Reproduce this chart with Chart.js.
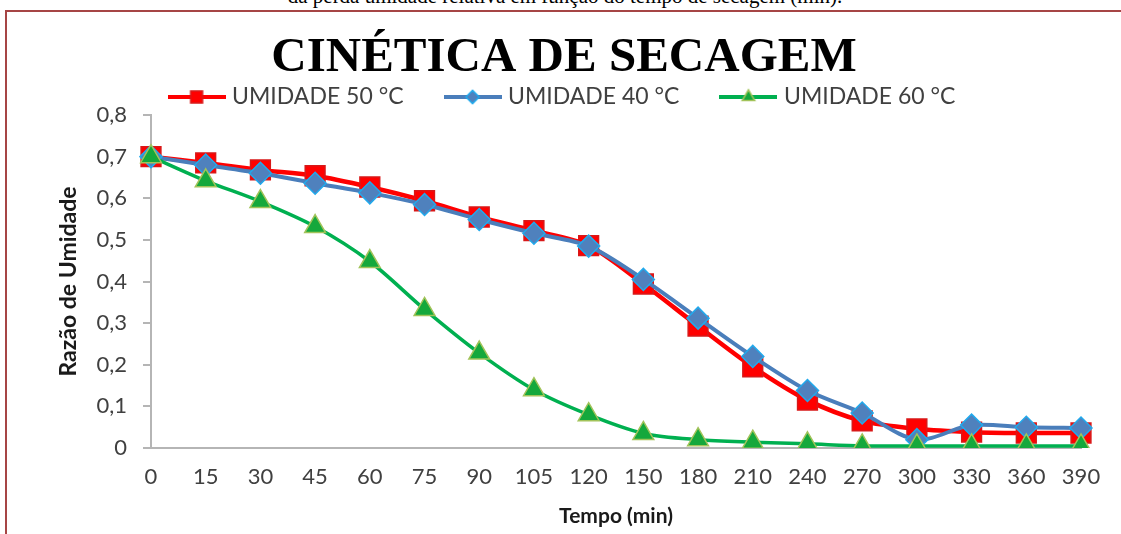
<!DOCTYPE html>
<html lang="pt">
<head>
<meta charset="utf-8">
<script src="https://cdn.jsdelivr.net/npm/chart.js@4/dist/chart.umd.min.js"></script>
<style>
  html, body { margin: 0; padding: 0; background: #fff; overflow: hidden; }
  body { width: 1121px; height: 534px; position: relative; }
  .caption {
    position: absolute; left: 0; top: -14px; width: 1130px; text-align: center;
    font: 21px/21px "Liberation Serif", serif; color: #000; white-space: nowrap;
  }
  .frame {
    position: absolute; left: 5px; top: 10px; width: 1200px; height: 600px;
    border-top: 2px solid #a64545; border-left: 2px solid #a64545;
  }
  .frame canvas { position: absolute; left: 0; top: 0; }
</style>
</head>
<body>
<div class="caption">da perda umidade relativa  em função do tempo de secagem (min).</div>
<div class="frame">
  <canvas id="cinetica" width="1114" height="522" style="width:1114px;height:522px"></canvas>
</div>
<script>
// Tempo de secagem (min)
const tempos = ['0', '15', '30', '45', '60', '75', '90', '105', '120', '150', '180', '210', '240', '270', '300', '330', '360', '390']

// Razão de umidade por temperatura
const umidade50 = [0.70, 0.685, 0.668, 0.654, 0.627, 0.594, 0.555, 0.522, 0.486, 0.394, 0.293, 0.195, 0.115, 0.065, 0.046, 0.038, 0.036, 0.036]
const umidade40 = [0.70, 0.680, 0.660, 0.636, 0.613, 0.585, 0.549, 0.516, 0.485, 0.405, 0.312, 0.220, 0.138, 0.084, 0.020, 0.055, 0.050, 0.048]
const umidade60 = [0.70, 0.642, 0.592, 0.532, 0.448, 0.333, 0.228, 0.140, 0.080, 0.035, 0.020, 0.014, 0.010, 0.005, 0.005, 0.005, 0.005, 0.005]

const yTicks = [0, 0.1, 0.2, 0.3, 0.4, 0.5, 0.6, 0.7, 0.8]

const series = [
  { label: 'UMIDADE 50 °C', data: umidade50, line: '#ff0000', fill: '#ff0000', edge: '#d81818', style: 'rect', radius: 14, width: 4.5, order: 3 },
  { label: 'UMIDADE 40 °C', data: umidade40, line: '#4a7ebb', fill: '#4f81bd', edge: '#21a9ec', style: 'rectRot', radius: 11, width: 4, order: 2 },
  { label: 'UMIDADE 60 °C', data: umidade60, line: '#00b050', fill: '#15a83c', edge: '#a2c35a', style: 'triangle', radius: 12, width: 3.5, order: 1 },
]

// Little line-with-marker glyph for the legend
function legendGlyph(s) {
  const c = document.createElement('canvas')
  c.width = 58
  c.height = 20
  const ctx = c.getContext('2d')
  ctx.strokeStyle = s.line
  ctx.lineWidth = 4
  ctx.beginPath()
  ctx.moveTo(0, 10)
  ctx.lineTo(58, 10)
  ctx.stroke()
  ctx.fillStyle = s.fill
  ctx.strokeStyle = s.edge
  ctx.lineWidth = 1.5
  Chart.helpers.drawPoint(ctx, { pointStyle: s.style, radius: s.radius * 0.6, rotation: 0, borderWidth: 1.5 }, 29, 10)
  return c
}

const glyphs = series.map(legendGlyph)

new Chart(document.getElementById('cinetica'), {
  type: 'line',
  data: {
    labels: tempos,
    datasets: series.map((s) => ({
      label: s.label,
      data: s.data,
      order: s.order,
      borderColor: s.line,
      borderWidth: s.width,
      backgroundColor: s.fill,
      pointStyle: s.style,
      pointRadius: s.radius,
      pointBackgroundColor: s.fill,
      pointBorderColor: s.edge,
      pointBorderWidth: 1.5,
      tension: 0.3,
      fill: false,
    })),
  },
  options: {
    responsive: false,
    animation: false,
    events: [],
    layout: { padding: { left: 40, right: 40, top: 0, bottom: 0 } },
    plugins: {
      title: {
        display: true,
        text: 'CINÉTICA DE SECAGEM',
        color: '#000',
        font: { family: '"Liberation Serif", "Times New Roman", serif', size: 49, weight: 'bold', lineHeight: 1 },
        // the legend sits close under the title
        padding: { top: 22, bottom: -42.5 },
      },
      legend: {
        display: true,
        maxHeight: 74.5,
        labels: {
          usePointStyle: true,
          pointStyleWidth: 48,
          padding: 45,
          color: '#404040',
          font: { family: 'Lato, sans-serif', size: 23 },
          sort: (a, b) => a.datasetIndex - b.datasetIndex,
          generateLabels(chart) {
            return chart.data.datasets.map((ds, i) => ({
              text: ds.label,
              datasetIndex: i,
              pointStyle: glyphs[i],
              fillStyle: 'transparent',
              strokeStyle: 'transparent',
              lineWidth: 0,
              fontColor: '#404040',
              hidden: false,
            }))
          },
        },
      },
      tooltip: { enabled: false },
    },
    scales: {
      x: {
        offset: false,
        grid: { display: false },
        border: { display: true, color: '#b5b5b5', width: 2 },
        ticks: {
          color: '#404040',
          padding: 8,
          maxRotation: 0,
          autoSkip: false,
          font: { family: 'Lato, sans-serif', size: 22 },
        },
        title: {
          display: true,
          text: 'Tempo (min)',
          color: '#1a1a1a',
          font: { family: 'Lato, sans-serif', size: 21, weight: 'bold' },
          padding: { top: 0, bottom: 5 },
        },
        afterFit(scale) {
          scale.height = 86
        },
      },
      y: {
        min: 0,
        max: 0.8,
        afterBuildTicks(scale) {
          scale.ticks = yTicks.map((v) => ({ value: v }))
        },
        grid: { display: true, drawOnChartArea: false, drawTicks: true, tickLength: 8, color: '#b5b5b5', lineWidth: 2 },
        border: { display: true, color: '#b5b5b5', width: 2 },
        ticks: {
          color: '#404040',
          padding: 16,
          font: { family: 'Lato, sans-serif', size: 22 },
          callback: (v) => (v === 0 ? '0' : v.toFixed(1).replace('.', ',')),
        },
        title: {
          display: true,
          text: 'Razão de Umidade',
          color: '#1a1a1a',
          font: { family: 'Lato, sans-serif', size: 23, weight: 'bold' },
          padding: { top: 8, bottom: 0 },
        },
        afterFit(scale) {
          scale.width = 104
        },
      },
    },
  },
})
</script>
</body>
</html>
